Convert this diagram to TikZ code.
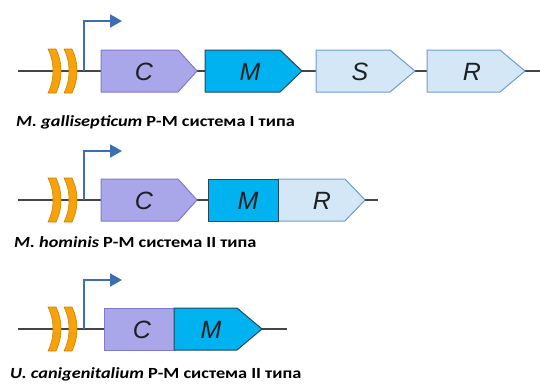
\documentclass[tikz,border=0pt]{standalone}
\usepackage{fontspec}
\setmainfont{Carlito}
\newfontfamily\capfont[FakeStretch=1.18]{Carlito}
\newfontfamily\genefont{Liberation Sans}
\usetikzlibrary{arrows.meta}
\definecolor{backbone}{HTML}{454545}
\definecolor{cfill}{HTML}{A9A7E9}
\definecolor{cdraw}{HTML}{7D7BC9}
\definecolor{mfill}{HTML}{00B2EF}
\definecolor{mdraw}{HTML}{23465C}
\definecolor{sfill}{HTML}{D3E7F7}
\definecolor{sdraw}{HTML}{6E9BD1}
\definecolor{ofill}{HTML}{F7A20B}
\definecolor{odraw}{HTML}{C98406}
\definecolor{pdraw}{HTML}{3D6EB3}
\tikzset{
  bb/.style={draw=backbone,line width=1.4pt},
  geneC/.style={fill=cfill,draw=cdraw,line width=1pt,line join=round},
  geneM/.style={fill=mfill,draw=mdraw,line width=1pt,line join=round},
  geneS/.style={fill=sfill,draw=sdraw,line width=1pt,line join=round},
  chev/.style={fill=ofill,draw=odraw,line width=0.6pt},
  prom/.style={draw=pdraw,line width=2pt,-{Triangle[length=12pt,width=13pt]}},
  glabel/.style={font=\genefont\itshape\fontsize{25}{27}\selectfont,text=black!88,inner sep=0pt},
  caption/.style={font=\capfont\bfseries\fontsize{15.5}{17}\selectfont,anchor=base west,inner sep=0pt}
}
% arrow-shaped gene: left, rect end, tip, centre y
\newcommand\genearr[5]{\path[#5] (#1,#4-21) -- (#2,#4-21) -- (#3,#4) -- (#2,#4+21) -- (#1,#4+21) -- cycle;}
\newcommand\generect[4]{\path[#4] (#1,#3-21) rectangle (#2,#3+21);}
\newcommand\chevrons[1]{%
  \foreach \cx in {48,64}{%
    \path[chev] (\cx,#1-22) -- (\cx+8,#1-22) to[bend left=12] (\cx+13,#1) to[bend left=12] (\cx+8,#1+22) -- (\cx,#1+22) to[bend right=12] (\cx+5,#1) to[bend right=12] cycle;}}
\begin{document}
\begin{tikzpicture}[x=1pt,y=-1pt]
\useasboundingbox (0,0) rectangle (540,383);
% ---------- row 1 ----------
\coordinate (a1) at (18,71); \coordinate (b1) at (540,71);
\draw[bb] (a1) -- (b1);
\chevrons{71}
\coordinate (p1a) at (84,71); \coordinate (p1b) at (84,21); \coordinate (p1c) at (122,21);
\draw[prom] (p1a) -- (p1b) -- (p1c);
\genearr{101}{178}{197}{71}{geneC}
\genearr{205}{280}{302}{71}{geneM}
\genearr{316}{390}{415}{71}{geneS}
\genearr{427}{500}{525}{71}{geneS}
\node[glabel] (c1) at (144,72) {C};
\node[glabel] (m1) at (250,72) {M};
\node[glabel] (s1) at (360,72) {S};
\node[glabel] (r1) at (472,72) {R};
\node[caption] (t1) at (16,126) {\itshape M. gallisepticum\/\upshape{} Р-М система I типа};
% ---------- row 2 ----------
\coordinate (a2) at (18,200); \coordinate (b2) at (378,200);
\draw[bb] (a2) -- (b2);
\chevrons{200}
\coordinate (p2a) at (84,200); \coordinate (p2b) at (84,151); \coordinate (p2c) at (122,151);
\draw[prom] (p2a) -- (p2b) -- (p2c);
\genearr{101}{178}{197}{200}{geneC}
\genearr{278}{345}{365}{200}{geneS}
\generect{208}{278}{200}{geneM}
\node[glabel] (c2) at (144,201) {C};
\node[glabel] (m2) at (248,201) {M};
\node[glabel] (r2) at (322,201) {R};
\node[caption] (t2) at (14,247) {\itshape M. hominis\/\upshape{} Р-М система II типа};
% ---------- row 3 ----------
\coordinate (a3) at (18,329); \coordinate (b3) at (287,329);
\draw[bb] (a3) -- (b3);
\chevrons{329}
\coordinate (p3a) at (84,329); \coordinate (p3b) at (84,280); \coordinate (p3c) at (122,280);
\draw[prom] (p3a) -- (p3b) -- (p3c);
\generect{104}{174}{329}{geneC}
\genearr{174}{237}{262}{329}{geneM}
\node[glabel] (c3) at (142,330) {C};
\node[glabel] (m3) at (211,330) {M};
\node[caption] (t3) at (10,378) {\itshape U. canigenitalium\/\upshape{} Р-М система II типа};
\end{tikzpicture}
\end{document}
